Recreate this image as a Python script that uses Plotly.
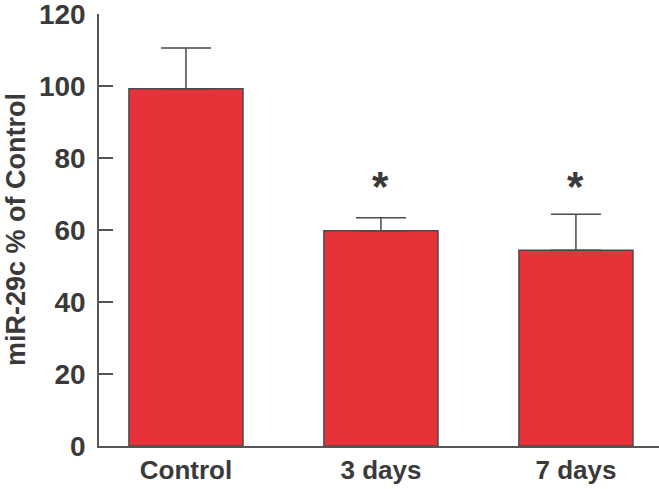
import plotly.graph_objects as go

categories = ["Control", "3 days", "7 days"]
means = [99.3, 59.8, 54.4]
sem_upper = [11.3, 3.6, 10.0]
significance = ["", "*", "*"]
y_ticks = [0, 20, 40, 60, 80, 100, 120]
STAR_LEVEL = 72

FONT = "Liberation Sans, Arial, sans-serif"
DARK = "#3a3a3a"

fig = go.Figure()
fig.add_trace(go.Bar(
    x=categories,
    y=means,
    width=0.585,
    marker=dict(color="#e8323a", line=dict(color="#4a4a4a", width=1.5)),
    error_y=dict(type="data", symmetric=False, array=sem_upper,
                 arrayminus=[0] * len(means), color="#4a4a4a",
                 thickness=1.5, width=25),
    showlegend=False,
))

for c, s in zip(categories, significance):
    if s:
        fig.add_annotation(x=c, y=STAR_LEVEL, text=s,
                           showarrow=False, yanchor="middle",
                           font=dict(family=FONT, size=42, color=DARK,
                                     weight="bold"))

fig.add_annotation(xref="paper", yref="paper", x=-83 / 560, y=0.5,
                   text="miR-29c % of Control", textangle=-90,
                   showarrow=False, xanchor="center", yanchor="middle",
                   font=dict(family=FONT, size=27, color=DARK, weight="bold"))

fig.update_layout(
    width=659, height=489,
    margin=dict(l=99, r=0, t=14, b=43, pad=0),
    paper_bgcolor="white", plot_bgcolor="white",
    xaxis=dict(range=[-0.446, 2.426], showline=True, linecolor="#555",
               linewidth=1.5, ticks="", showgrid=False, zeroline=False,
               automargin=False,
               tickfont=dict(family=FONT, size=26, color=DARK, weight="bold")),
    yaxis=dict(range=[0, 120.05], tickvals=y_ticks, showline=True,
               linecolor="#555", linewidth=1.5, ticks="inside",
               ticklen=14, tickwidth=1.5, tickcolor="#555", showgrid=False,
               zeroline=False, ticklabelstandoff=6, automargin=False,
               ticklabeloverflow="allow",
               tickfont=dict(family=FONT, size=28, color=DARK, weight="bold")),
)

fig.write_html("out.html", config={"displayModeBar": False},
               post_script="document.body.style.margin='0';")
